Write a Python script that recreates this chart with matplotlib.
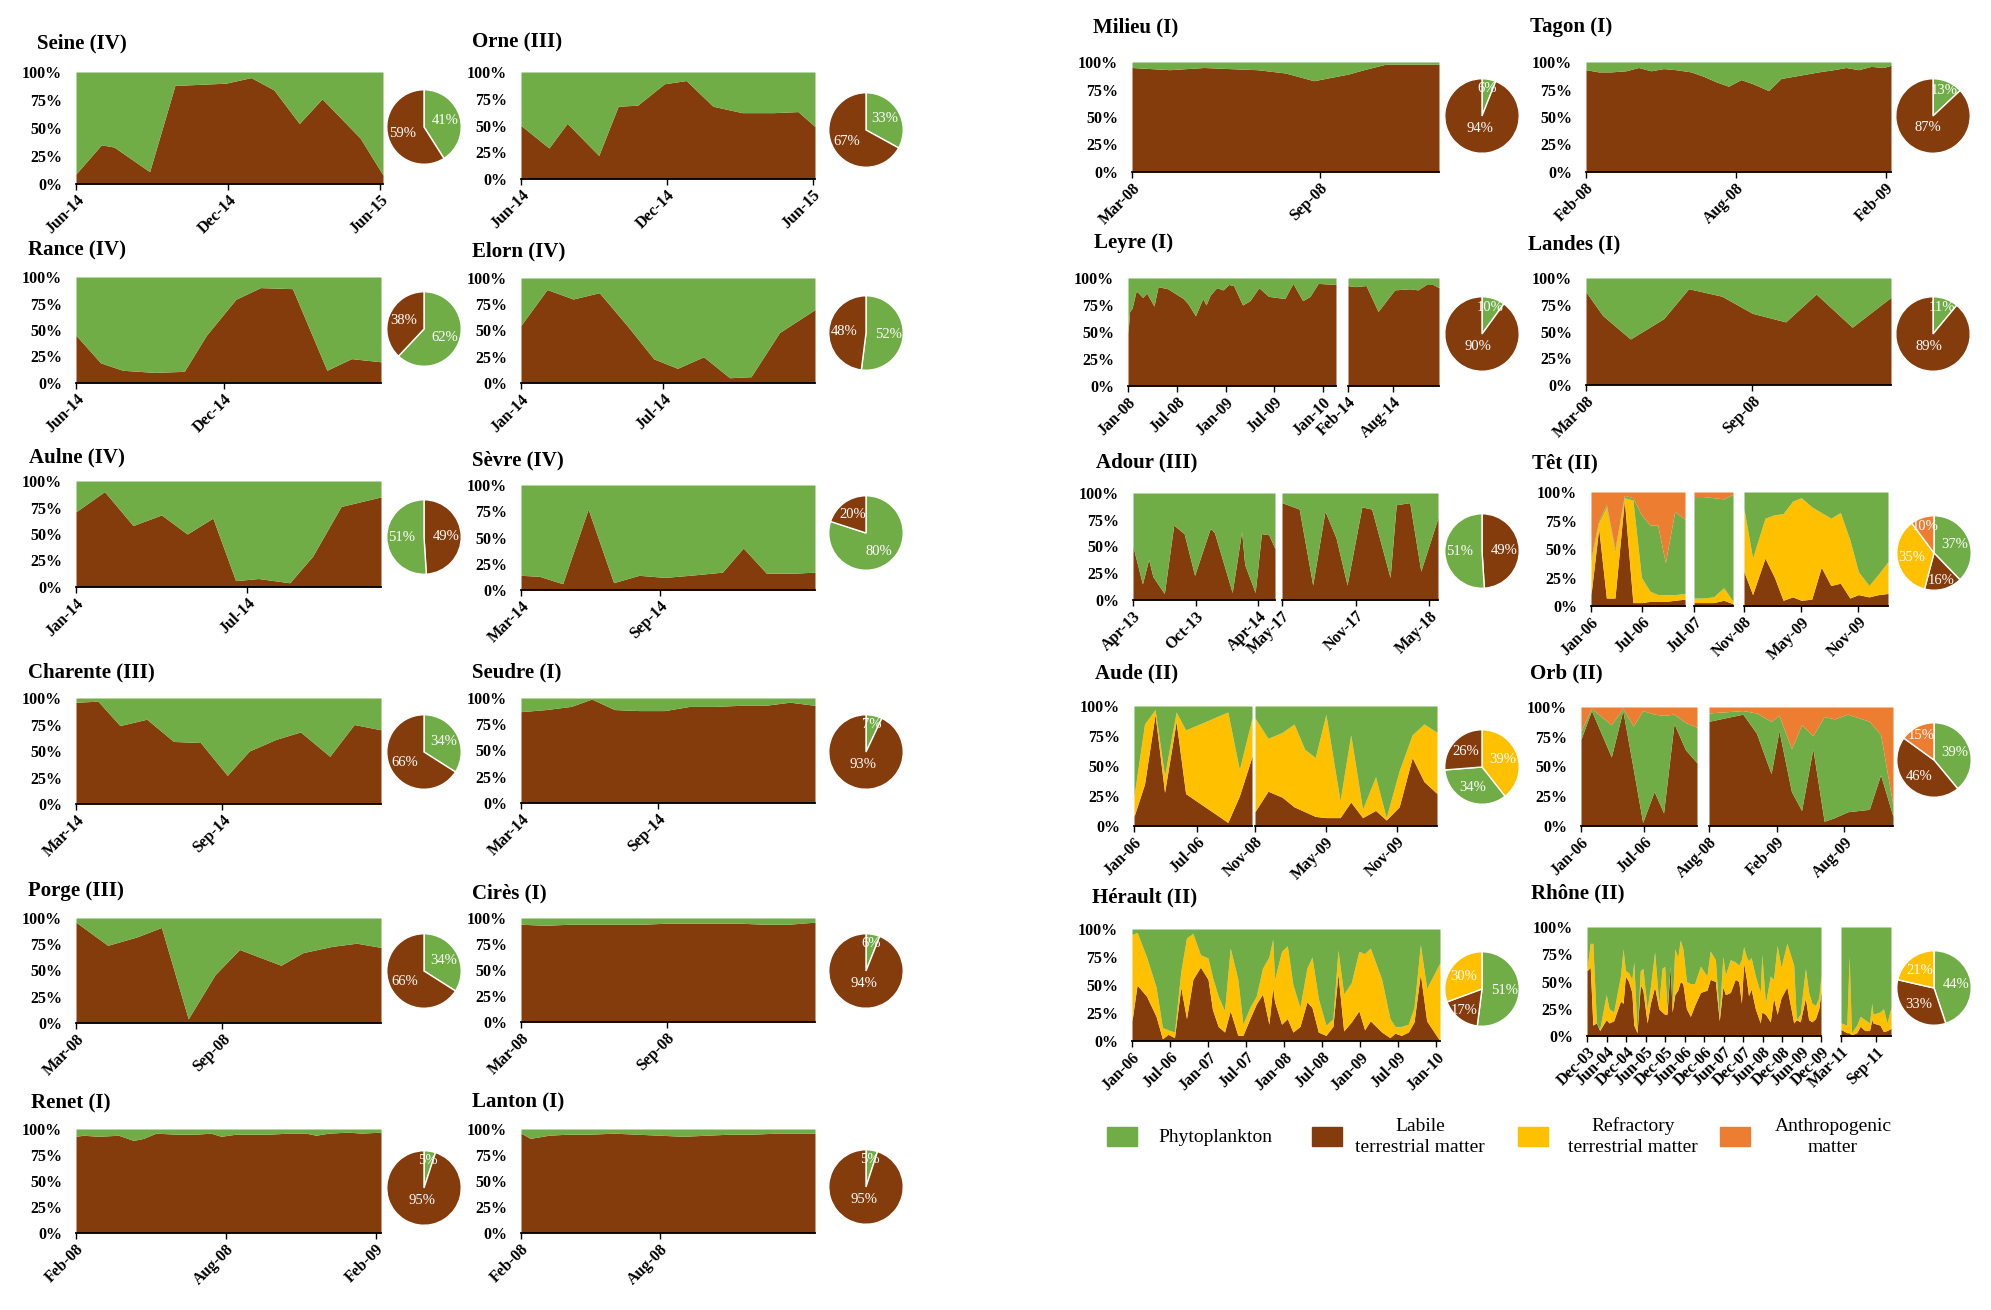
import numpy as np
import matplotlib
matplotlib.use("Agg")
import matplotlib.pyplot as plt
from matplotlib.patches import Rectangle

plt.rcParams['font.family'] = ['Liberation Serif', 'DejaVu Serif']

W, H = 1991, 1310

GREEN = '#70AD47'
BROWN = '#843C0C'
YELLOW = '#FFC000'
ORANGE = '#ED7D31'
COLORS = {'phyto': GREEN, 'labile': BROWN, 'refr': YELLOW, 'anthro': ORANGE}

TITLE_FS = 15
TICK_FS = 11.5
PIE_FS = 10.5
PIE_R = 38

# ---------------- data (time in months from first tick, values in %) ----------------
seine_t = [0, 1.0, 1.5, 2.9, 3.9, 5.9, 6.9, 7.8, 8.8, 9.7, 11.2, 12.1]
seine_lab = [9, 35, 33, 11, 88, 90, 95, 84, 54, 76, 41, 8]
seine_pie = [41, 59]

orne_t = [0, 1.15, 1.9, 3.2, 4.0, 4.8, 5.9, 6.8, 7.9, 9.1, 10.4, 11.4, 12.1]
orne_lab = [50, 29, 52, 22, 68, 69, 89, 92, 68, 62, 62, 63, 49]
orne_pie = [33, 67]

rance_t = [0, 1.0, 1.9, 3.2, 4.4, 5.3, 6.5, 7.5, 8.8, 10.2, 11.2, 12.4]
rance_lab = [45, 19, 12, 10, 11, 45, 79, 90, 89, 12, 23, 20]
rance_pie = [62, 38]

elorn_t = [0, 1.1, 2.2, 3.3, 4.5, 5.6, 6.6, 7.7, 8.8, 9.7, 10.9, 12.4]
elorn_lab = [55, 89, 80, 86, 54, 23, 14, 25, 5, 6, 48, 70]
elorn_pie = [52, 48]

aulne_t = [0, 1.0, 2.0, 3.0, 3.9, 4.8, 5.6, 6.4, 7.5, 8.3, 9.3, 10.7]
aulne_lab = [71, 90, 58, 68, 50, 65, 6, 8, 4, 29, 76, 85]
aulne_pie = [49, 51]

sevre_t = [0, 0.8, 1.8, 2.9, 4.0, 5.1, 6.2, 7.3, 8.7, 9.6, 10.6, 11.8, 12.7]
sevre_lab = [14, 13, 6, 77, 7, 14, 12, 14, 17, 40, 16, 16, 17]
sevre_pie = [80, 20]

charente_t = [0, 0.9, 1.8, 2.9, 4.0, 5.1, 6.2, 7.1, 8.2, 9.2, 10.4, 11.4, 12.5]
charente_lab = [96, 97, 74, 80, 59, 58, 27, 50, 61, 68, 45, 75, 70]
charente_pie = [34, 66]

seudre_t = [0, 1.1, 2.2, 3.1, 4.1, 5.2, 6.3, 7.4, 8.5, 9.6, 10.7, 11.8, 12.9]
seudre_lab = [87, 89, 92, 99, 89, 88, 88, 92, 92, 93, 93, 96, 93]
seudre_pie = [7, 93]

porge_t = [0, 1.3, 2.5, 3.5, 4.6, 5.7, 6.7, 8.4, 9.3, 10.5, 11.5, 12.5]
porge_lab = [96, 74, 82, 91, 4, 46, 70, 55, 67, 73, 76, 72]
porge_pie = [34, 66]

cires_t = [0, 1, 2, 3, 4, 5, 6, 7, 8, 9, 10, 11, 12.1]
cires_lab = [94, 93, 94, 94, 94, 94, 95, 95, 95, 95, 94, 94, 96]
cires_pie = [6, 94]

renet_t = [0, 0.3, 0.9, 1.7, 2.3, 2.7, 3.2, 4.0, 4.8, 5.4, 5.8, 6.4, 6.9, 7.7,
           8.5, 9.2, 9.6, 10.1, 10.9, 11.4, 12.2]
renet_lab = [93, 94, 93, 94, 89, 91, 96, 95, 95, 96, 93, 95, 95, 95,
             96, 96, 94, 96, 97, 96, 97]
renet_pie = [5, 95]

lanton_t = [0, 0.4, 1.2, 2, 3, 4, 5, 6, 7, 8, 9, 10, 11, 12, 12.7]
lanton_lab = [96, 91, 94, 95, 95, 96, 95, 94, 93, 94, 95, 95, 96, 96, 96]
lanton_pie = [5, 95]

milieu_t = [0, 1.2, 2.3, 3.1, 4.0, 4.9, 5.8, 6.9, 7.4, 8.1, 9.0, 9.8]
milieu_lab = [95, 93, 95, 94, 93, 90, 83, 89, 93, 98, 98, 98]
milieu_pie = [6, 94]

tagon_t = [0, 0.5, 1.0, 1.6, 2.1, 2.6, 3.1, 3.6, 4.2, 4.7, 5.2, 5.7, 6.2, 6.7,
           7.3, 7.8, 8.3, 8.8, 9.3, 9.9, 10.4, 10.9, 11.4, 11.9, 12.2]
tagon_lab = [93, 91, 91, 92, 95, 92, 94, 93, 91, 87, 82, 78, 84, 80,
             74, 85, 87, 89, 91, 93, 95, 93, 96, 95, 97]
tagon_pie = [13, 87]

leyre_t1 = [0, 0.2, 0.5, 1.0, 1.3, 1.8, 2.3, 3.2, 3.7, 4.9, 6.8, 7.4, 8.3, 9.2, 9.6,
            10.1, 10.9, 11.7, 12.4, 13.0, 14.1, 15.0, 16.1, 17.3, 19.3, 20.3, 21.5,
            22.4, 23.4, 25.6]
leyre_lab1 = [49, 69, 72, 88, 86, 82, 86, 74, 92, 90, 81, 76, 65, 81, 75,
              84, 91, 89, 94, 93, 75, 79, 91, 83, 81, 95, 79,
              83, 95, 94]
leyre_t2 = [0, 0.9, 2.4, 4.0, 6.2, 8.2, 9.3, 10.4, 11.3, 12.1]
leyre_lab2 = [93, 92, 93, 69, 89, 90, 89, 94, 94, 91]
leyre_pie = [10, 90]

landes_t = [0, 0.6, 1.6, 2.8, 3.7, 4.9, 6.0, 7.2, 8.3, 9.6, 11.0]
landes_lab = [87, 65, 43, 62, 90, 83, 67, 59, 85, 54, 82]
landes_pie = [11, 89]

adour_t1 = [0, 0.9, 1.5, 1.9, 3.0, 3.9, 4.9, 5.9, 7.4, 7.8, 9.5, 10.4, 10.7, 11.7, 12.3, 13.0, 13.6]
adour_lab1 = [50, 15, 38, 22, 6, 70, 62, 23, 67, 63, 7, 64, 33, 7, 62, 61, 48]
adour_t2 = [0, 1.4, 2.5, 3.5, 4.4, 5.3, 6.5, 7.3, 8.8, 9.3, 10.4, 11.3, 12.7]
adour_lab2 = [91, 85, 14, 83, 58, 14, 87, 85, 21, 89, 91, 27, 77]
adour_pie = [49, 51]

tet_t1 = [0, 0.9, 1.8, 2.8, 3.9, 4.9, 5.9, 6.9, 7.8, 8.7, 9.8, 11.0]
tet_lab1 = [10, 68, 7, 7, 93, 3, 3, 4, 4, 4, 5, 6]
tet_ref1 = [30, 5, 80, 41, 2, 90, 22, 9, 6, 6, 5, 5]
tet_phy1 = [2, 2, 2, 2, 2, 2, 55, 58, 61, 28, 73, 65]
tet_t2 = [0, 1.1, 2.3, 3.5, 4.6]
tet_lab2 = [3, 3, 3, 5, 2]
tet_ref2 = [4, 4, 5, 11, 2]
tet_phy2 = [89, 89, 87, 78, 94]
tet_t3 = [0, 0.9, 2.2, 3.2, 4.1, 5.1, 6.0, 7.1, 8.1, 9.1, 10.1, 11.1, 12.0, 13.1, 14.1, 15.1]
tet_lab3 = [30, 10, 42, 25, 5, 8, 5, 6, 34, 18, 20, 7, 10, 8, 10, 11]
tet_ref3 = [55, 32, 35, 55, 76, 84, 90, 81, 48, 59, 62, 51, 20, 10, 18, 28]
tet_pie = [37, 16, 35, 10]

aude_t1 = [0, 1.0, 2.0, 2.9, 4.0, 4.9, 8.9, 10.0, 11.2]
aude_lab1 = [8, 35, 93, 28, 87, 27, 3, 25, 58]
aude_ref1 = [17, 50, 4, 14, 8, 53, 92, 22, 32]
aude_t2 = [0, 1.1, 2.3, 3.3, 4.2, 5.1, 6.0, 7.2, 8.1, 9.1, 10.2, 11.1, 12.2, 13.3, 14.3, 15.4]
aude_lab2 = [12, 29, 24, 16, 12, 8, 7, 7, 20, 7, 13, 5, 16, 57, 37, 27]
aude_ref2 = [78, 44, 54, 69, 52, 49, 86, 14, 56, 7, 28, 2, 30, 19, 48, 51]
aude_pie = [39, 34, 26]

orb_t1 = [0, 1.0, 2.9, 4.0, 5.0, 5.9, 7.0, 7.9, 8.9, 10.0, 11.1]
orb_lab1 = [73, 97, 58, 97, 48, 3, 29, 11, 86, 64, 53]
orb_phy1 = [7, 2, 27, 2, 36, 94, 65, 82, 8, 23, 30]
orb_t2 = [0, 3.0, 4.2, 5.5, 6.2, 7.3, 8.2, 9.2, 10.2, 11.1, 12.3, 14.2, 15.2, 16.3]
orb_lab2 = [88, 94, 78, 44, 80, 29, 13, 65, 4, 7, 12, 14, 43, 8]
orb_phy2 = [7, 3, 17, 44, 13, 36, 72, 11, 88, 83, 82, 74, 34, 9]
orb_pie = [39, 46, 15]

herault_t = [0, 0.8, 2.3, 3.8, 4.8, 5.7, 6.7, 7.7, 8.6, 9.6, 10.8, 12.0, 12.7, 13.6,
             14.6, 15.5, 16.7, 17.5, 18.6, 19.6, 20.6, 21.6, 22.2, 22.5, 23.6, 24.5,
             25.4, 26.5, 27.6, 28.4, 29.4, 30.6, 31.7, 32.5, 33.4, 34.6, 35.8, 36.7,
             37.6, 39.4, 40.7, 41.5, 42.5, 43.6, 44.5, 45.5, 46.5, 48.6]
herault_lab = [18, 50, 40, 22, 2, 6, 3, 48, 20, 55, 66, 55, 28, 13, 8, 27, 5, 5, 20, 33,
               42, 15, 48, 35, 15, 20, 8, 13, 35, 30, 8, 5, 13, 60, 9, 17, 27, 10, 18, 8,
               3, 7, 5, 8, 17, 60, 18, 0]
herault_ref = [77, 47, 35, 26, 10, 4, 5, 14, 72, 41, 11, 19, 29, 27, 19, 56, 50, 10, 10, 7,
               23, 60, 43, 20, 65, 65, 42, 17, 30, 45, 30, 9, 7, 21, 33, 35, 53, 68, 65, 47,
               17, 6, 8, 7, 13, 26, 29, 70]
herault_pie = [51, 17, 30]

rhone_t1 = [0, 1.0, 1.8, 2.9, 3.9, 5.9, 6.8, 8.2, 10.3, 11.1, 11.8, 12.8, 13.8, 14.4,
            15.4, 16.4, 17.2, 18.5, 19.5, 20.8, 22.1, 23.1, 23.9, 24.6, 25.6, 26.2,
            27.0, 27.9, 28.7, 29.5, 30.6, 31.8, 33.1, 34.9, 36.9, 37.9, 39.5, 40.7,
            41.8, 42.6, 44.1, 45.6, 46.7, 47.5, 48.2, 49.0, 49.7, 50.5, 51.8, 53.3,
            53.8, 54.9, 56.4, 57.4, 58.5, 59.7, 61.5, 63.6, 64.4, 65.6, 67.2, 68.2,
            69.2, 70.3, 71.3, 72.0]
rhone_lab1 = [60, 63, 10, 12, 5, 15, 12, 14, 32, 30, 55, 50, 40, 10, 3, 47, 42, 12, 30, 45,
              25, 22, 20, 20, 64, 22, 38, 42, 50, 48, 25, 18, 28, 40, 42, 52, 50, 14, 45, 38,
              40, 52, 50, 30, 67, 53, 37, 43, 25, 12, 22, 20, 13, 35, 20, 35, 45, 12, 15, 13,
              35, 15, 13, 16, 25, 40]
rhone_ref1 = [2, 22, 75, 0, 1, 23, 13, 8, 23, 50, 5, 8, 12, 58, 1, 13, 20, 13, 15, 32,
              5, 40, 44, 5, 0, 3, 42, 30, 38, 32, 25, 30, 20, 24, 13, 26, 20, 4, 28, 18,
              30, 16, 15, 40, 15, 20, 32, 29, 30, 28, 53, 10, 42, 17, 63, 28, 40, 53, 0, 7,
              27, 25, 17, 12, 10, 15]
rhone_t2 = [0, 1.0, 1.4, 1.8, 2.7, 3.3, 4.1, 4.9, 5.3, 5.5, 6.7, 7.3, 7.9, 8.6]
rhone_lab2 = [6, 3, 3, 1, 3, 9, 5, 5, 15, 12, 10, 4, 5, 7]
rhone_ref2 = [6, 7, 70, 2, 7, 9, 10, 7, 15, 8, 12, 21, 7, 19]
rhone_pie = [44, 33, 21]

legend_keys = ['phyto', 'labile', 'refr', 'anthro']
legend_labels = ['Phytoplankton', 'Labile\nterrestrial matter',
                 'Refractory\nterrestrial matter', 'Anthropogenic\nmatter']

Y_TICKS = [0, 25, 50, 75, 100]
Y_LABELS = ['0%', '25%', '50%', '75%', '100%']

fig = plt.figure(figsize=(W / 100, H / 100), dpi=100)


def px_box(l, t, r, b):
    return [l / W, 1 - b / H, (r - l) / W, (b - t) / H]


def draw_segment(box, t, layers, top_color, ticks, tick_labels, show_y):
    ax = fig.add_axes(px_box(*box))
    t = np.asarray(t, float)
    base = np.zeros_like(t)
    for vals, col in layers:
        vals = np.asarray(vals, float)
        ax.fill_between(t, base, base + vals, color=col, linewidth=0)
        base = base + vals
    ax.fill_between(t, base, 100, color=top_color, linewidth=0)
    ax.set_xlim(t[0], t[-1])
    ax.set_ylim(0, 100)
    for s in ['top', 'right', 'left']:
        ax.spines[s].set_visible(False)
    ax.spines['bottom'].set_linewidth(1.3)
    ax.set_xticks(ticks)
    ax.set_xticklabels(tick_labels, rotation=45, ha='right', rotation_mode='anchor',
                       fontsize=TICK_FS, fontweight='bold')
    ax.tick_params(axis='x', length=4, width=1, pad=2)
    if show_y:
        ax.set_yticks(Y_TICKS)
        ax.set_yticklabels(Y_LABELS, fontsize=TICK_FS, fontweight='bold')
        ax.tick_params(axis='y', length=0, pad=10)
    else:
        ax.set_yticks([])
    return ax


def draw_pie(center, values, parts):
    cx, cy = center
    r = PIE_R
    ax = fig.add_axes(px_box(cx - r, cy - r, cx + r, cy + r))
    wedges, _ = ax.pie(values, colors=[COLORS[p] for p in parts], startangle=90,
                       counterclock=False, radius=1,
                       wedgeprops=dict(edgecolor='white', linewidth=1.0))
    for w, v in zip(wedges, values):
        ang = np.deg2rad((w.theta1 + w.theta2) / 2)
        d = 0.75 if v < 20 else (0.35 if v > 85 else 0.6)
        ax.text(d * np.cos(ang), d * np.sin(ang), f'{v}%', ha='center', va='center',
                color='white', fontsize=PIE_FS)
    ax.set_xlim(-1.02, 1.02)
    ax.set_ylim(-1.02, 1.02)
    ax.set_aspect('equal')


def title(text, x, y):
    fig.text(x / W, 1 - y / H, text, ha='left', va='center',
             fontsize=TITLE_FS, fontweight='bold')


def simple(name, xy, box, t, lab, ticks, labels, pie_c, pie_v, pie_parts):
    title(name, *xy)
    draw_segment(box, t, [(lab, BROWN)], GREEN, ticks, labels, True)
    draw_pie(pie_c, pie_v, pie_parts)


PG = ['phyto', 'labile']
GP = ['labile', 'phyto']
T6 = [0, 6]
T12 = [0, 6, 12]

# ---------------- left block ----------------
LX = (76, 381)
RX = (521, 815)

simple('Seine (IV)', (37, 43), (LX[0], 72, 383, 184), seine_t, seine_lab, T12,
       ['Jun-14', 'Dec-14', 'Jun-15'], (424, 127), seine_pie, PG)
simple('Orne (III)', (472, 42), (RX[0], 72, RX[1], 179), orne_t, orne_lab, T12,
       ['Jun-14', 'Dec-14', 'Jun-15'], (866, 130), orne_pie, PG)
simple('Rance (IV)', (28, 250), (LX[0], 277, LX[1], 383), rance_t, rance_lab, T6,
       ['Jun-14', 'Dec-14'], (424, 329), rance_pie, PG)
simple('Elorn (IV)', (472, 251), (RX[0], 278, RX[1], 383), elorn_t, elorn_lab, T6,
       ['Jan-14', 'Jul-14'], (866, 333), elorn_pie, PG)
simple('Aulne (IV)', (29, 457), (LX[0], 481, LX[1], 587), aulne_t, aulne_lab, T6,
       ['Jan-14', 'Jul-14'], (424, 537), aulne_pie, GP)
simple('Sèvre (IV)', (472, 460), (RX[0], 485, RX[1], 590), sevre_t, sevre_lab, T6,
       ['Mar-14', 'Sep-14'], (866, 533), sevre_pie, PG)
simple('Charente (III)', (28, 672), (LX[0], 698, LX[1], 804), charente_t, charente_lab, T6,
       ['Mar-14', 'Sep-14'], (424, 752), charente_pie, PG)
simple('Seudre (I)', (472, 672), (RX[0], 698, RX[1], 803), seudre_t, seudre_lab, T6,
       ['Mar-14', 'Sep-14'], (866, 752), seudre_pie, PG)
simple('Porge (III)', (28, 891), (LX[0], 918, LX[1], 1023), porge_t, porge_lab, T6,
       ['Mar-08', 'Sep-08'], (424, 971), porge_pie, PG)
simple('Cirès (I)', (472, 893), (RX[0], 918, RX[1], 1022), cires_t, cires_lab, T6,
       ['Mar-08', 'Sep-08'], (866, 971), cires_pie, PG)
simple('Renet (I)', (31, 1103), (LX[0], 1129, LX[1], 1233), renet_t, renet_lab, T12,
       ['Feb-08', 'Aug-08', 'Feb-09'], (424, 1188), renet_pie, PG)
simple('Lanton (I)', (472, 1102), (RX[0], 1129, RX[1], 1233), lanton_t, lanton_lab, T6,
       ['Feb-08', 'Aug-08'], (866, 1187), lanton_pie, PG)

# ---------------- right block ----------------
simple('Milieu (I)', (1093, 27), (1132, 62, 1439, 172), milieu_t, milieu_lab, T6,
       ['Mar-08', 'Sep-08'], (1482, 116), milieu_pie, PG)
simple('Tagon (I)', (1530, 27), (1586, 62, 1891, 172), tagon_t, tagon_lab, T12,
       ['Feb-08', 'Aug-08', 'Feb-09'], (1933, 116), tagon_pie, PG)

title('Leyre (I)', 1094, 243)
draw_segment((1128, 278, 1336, 386), leyre_t1, [(leyre_lab1, BROWN)], GREEN,
             [0, 6, 12, 18, 24], ['Jan-08', 'Jul-08', 'Jan-09', 'Jul-09', 'Jan-10'], True)
draw_segment((1348, 278, 1439, 386), leyre_t2, [(leyre_lab2, BROWN)], GREEN,
             T6, ['Feb-14', 'Aug-14'], False)
draw_pie((1482, 334), leyre_pie, PG)

simple('Landes (I)', (1528, 244), (1586, 278, 1891, 385), landes_t, landes_lab, T6,
       ['Mar-08', 'Sep-08'], (1933, 334), landes_pie, PG)

title('Adour (III)', 1096, 462)
draw_segment((1133, 493, 1275, 600), adour_t1, [(adour_lab1, BROWN)], GREEN,
             T12, ['Apr-13', 'Oct-13', 'Apr-14'], True)
draw_segment((1282, 493, 1438, 600), adour_t2, [(adour_lab2, BROWN)], GREEN,
             T12, ['May-17', 'Nov-17', 'May-18'], False)
draw_pie((1482, 551), adour_pie, GP)

title('Têt (II)', 1532, 463)
draw_segment((1591, 492, 1685, 606), tet_t1,
             [(tet_lab1, BROWN), (tet_ref1, YELLOW), (tet_phy1, GREEN)], ORANGE,
             T6, ['Jan-06', 'Jul-06'], True)
draw_segment((1694, 492, 1733, 606), tet_t2,
             [(tet_lab2, BROWN), (tet_ref2, YELLOW), (tet_phy2, GREEN)], ORANGE,
             [0], ['Jul-07'], False)
draw_segment((1744, 492, 1888, 606), tet_t3,
             [(tet_lab3, BROWN), (tet_ref3, YELLOW)], GREEN,
             T12, ['Nov-08', 'May-09', 'Nov-09'], False)
draw_pie((1934, 553), tet_pie, ['phyto', 'labile', 'refr', 'anthro'])

title('Aude (II)', 1095, 673)
draw_segment((1134, 706, 1252, 826), aude_t1,
             [(aude_lab1, BROWN), (aude_ref1, YELLOW)], GREEN,
             T6, ['Jan-06', 'Jul-06'], True)
draw_segment((1255, 706, 1437, 826), aude_t2,
             [(aude_lab2, BROWN), (aude_ref2, YELLOW)], GREEN,
             T12, ['Nov-08', 'May-09', 'Nov-09'], False)
draw_pie((1482, 767), aude_pie, ['refr', 'phyto', 'labile'])

title('Orb (II)', 1530, 673)
draw_segment((1581, 707, 1697, 826), orb_t1,
             [(orb_lab1, BROWN), (orb_phy1, GREEN)], ORANGE,
             T6, ['Jan-06', 'Jul-06'], True)
draw_segment((1709, 707, 1893, 826), orb_t2,
             [(orb_lab2, BROWN), (orb_phy2, GREEN)], ORANGE,
             T12, ['Aug-08', 'Feb-09', 'Aug-09'], False)
draw_pie((1934, 760), orb_pie, ['phyto', 'labile', 'anthro'])

title('Hérault (II)', 1092, 897)
draw_segment((1132, 929, 1440, 1041), herault_t,
             [(herault_lab, BROWN), (herault_ref, YELLOW)], GREEN,
             [0, 6, 12, 18, 24, 30, 36, 42, 48],
             ['Jan-06', 'Jul-06', 'Jan-07', 'Jul-07', 'Jan-08', 'Jul-08',
              'Jan-09', 'Jul-09', 'Jan-10'], True)
draw_pie((1482, 989), herault_pie, ['phyto', 'labile', 'refr'])

title('Rhône (II)', 1531, 893)
draw_segment((1587, 927, 1821, 1036), rhone_t1,
             [(rhone_lab1, BROWN), (rhone_ref1, YELLOW)], GREEN,
             list(range(0, 73, 6)),
             ['Dec-03', 'Jun-04', 'Dec-04', 'Jun-05', 'Dec-05', 'Jun-06', 'Dec-06',
              'Jun-07', 'Dec-07', 'Jun-08', 'Dec-08', 'Jun-09', 'Dec-09'], True)
draw_segment((1841, 927, 1891, 1036), rhone_t2,
             [(rhone_lab2, BROWN), (rhone_ref2, YELLOW)], GREEN,
             T6, ['Mar-11', 'Sep-11'], False)
draw_pie((1934, 988), rhone_pie, ['phyto', 'labile', 'refr'])

# ---------------- legend ----------------
sq_x = [1107, 1312, 1518, 1720]
txt_x = [1158, 1420, 1633, 1833]
for i, (key, lab) in enumerate(zip(legend_keys, legend_labels)):
    fig.patches.append(Rectangle((sq_x[i] / W, 1 - 1146 / H), 30 / W, 19 / H,
                                 transform=fig.transFigure, facecolor=COLORS[key],
                                 edgecolor=COLORS[key]))
    fig.text(txt_x[i] / W, 1 - 1137 / H, lab, ha='left' if i == 0 else 'center',
             va='center', fontsize=14, linespacing=1.3, multialignment='center')

fig.savefig('out.png', dpi=100)
